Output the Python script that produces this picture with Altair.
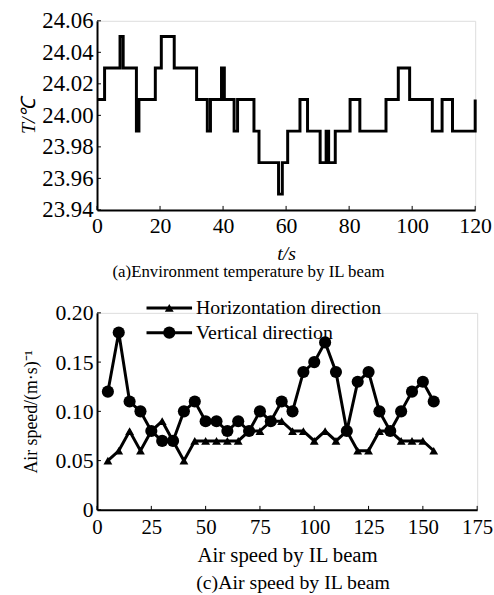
import altair as alt
import pandas as pd

# ---------------- data: (a) environment temperature ----------------
t_steps = [0, 2.4, 7.3, 8.3, 12.5, 13.3, 18.5, 20.4, 24.5, 31.6,
           35.0, 36.0, 39.5, 40.4, 43.5, 44.6, 49.8, 51.4, 57.6, 58.8,
           60.5, 64.4, 66.8, 70.8, 72.7, 73.5, 75.6, 80.3, 83.4, 91.7,
           95.6, 99.2, 106.4, 109.5, 112.8, 120]
temp = [24.01, 24.03, 24.05, 24.03, 23.99, 24.01, 24.03, 24.05, 24.03, 24.01,
        23.99, 24.01, 24.03, 24.01, 23.99, 24.01, 23.99, 23.97, 23.95, 23.97,
        23.99, 24.01, 23.99, 23.97, 23.99, 23.97, 23.99, 24.01, 23.99, 24.01,
        24.03, 24.01, 23.99, 24.01, 23.99, 24.01]
t_ticks = [0, 20, 40, 60, 80, 100, 120]
temp_ticks = [23.94, 23.96, 23.98, 24.00, 24.02, 24.04, 24.06]

# ---------------- data: (c) air speed ----------------
pos = [5, 10, 15, 20, 25, 30, 35, 40, 45, 50, 55, 60, 65, 70, 75, 80,
       85, 90, 95, 100, 105, 110, 115, 120, 125, 130, 135, 140, 145, 150, 155]
horizontal = [0.05, 0.06, 0.08, 0.06, 0.08, 0.09, 0.07, 0.05, 0.07, 0.07, 0.07,
              0.07, 0.07, 0.08, 0.08, 0.09, 0.09, 0.08, 0.08, 0.07, 0.08, 0.07,
              0.08, 0.06, 0.06, 0.08, 0.08, 0.07, 0.07, 0.07, 0.06]
vertical = [0.12, 0.18, 0.11, 0.10, 0.08, 0.07, 0.07, 0.10, 0.11, 0.09, 0.09,
            0.08, 0.09, 0.08, 0.10, 0.09, 0.11, 0.10, 0.14, 0.15, 0.17, 0.14,
            0.08, 0.13, 0.14, 0.10, 0.08, 0.10, 0.12, 0.13, 0.11]
series_names = ["Horizontation direction", "Vertical direction"]
series_shapes = ["triangle-up", "circle"]
pos_ticks = [0, 25, 50, 75, 100, 125, 150, 175]
speed_ticks = [0, 0.05, 0.10, 0.15, 0.20]

FONT = "Liberation Serif"
SW = 3

# ---------------- top chart ----------------
W1, H1 = 382, 191
temp_df = pd.DataFrame({"t": t_steps, "T": temp})
xs1 = alt.Scale(domain=[0, 120], nice=False)
ys1 = alt.Scale(domain=[23.94, 24.06], nice=False, zero=False)

xaxis1 = alt.Axis(values=t_ticks, title="t/s", titleFontStyle="italic",
                  titleFont=FONT, titleFontSize=20, titleFontWeight="normal",
                  titlePadding=7, labelFont=FONT, labelFontSize=22,
                  labelPadding=6, ticks=False, domainColor="black",
                  domainWidth=2, labelColor="black", titleColor="black",
                  grid=False, labelFlush=False, labelOverlap=False)
yaxis1 = alt.Axis(values=temp_ticks, format=".2f", title="T/℃",
                  titleFont=FONT, titleFontSize=20, titleFontStyle="italic",
                  titleFontWeight="normal", titlePadding=3,
                  labelFont=FONT, labelFontSize=23, labelPadding=4,
                  ticks=False, domainColor="black", domainWidth=2,
                  labelColor="black", titleColor="black", grid=False,
                  labelOverlap=False)

line1 = alt.Chart(temp_df).mark_line(
    interpolate="step-after", color="black", strokeWidth=SW, clip=False
).encode(
    x=alt.X("t:Q", scale=xs1, axis=xaxis1),
    y=alt.Y("T:Q", scale=ys1, axis=yaxis1),
)

xt1 = alt.Chart(pd.DataFrame({"v": t_ticks})).mark_rule(color="black", strokeWidth=1).encode(
    x=alt.X("v:Q", scale=xs1, axis=xaxis1), y=alt.value(H1), y2=alt.value(H1 - 4))
yt1 = alt.Chart(pd.DataFrame({"v": temp_ticks})).mark_rule(color="black", strokeWidth=1).encode(
    y=alt.Y("v:Q", scale=ys1, axis=yaxis1), x=alt.value(0), x2=alt.value(4))

top = alt.layer(line1, xt1, yt1).properties(
    width=W1, height=H1,
    title=alt.TitleParams("(a)Environment temperature by IL beam", orient="bottom",
                          font=FONT, fontSize=17, fontWeight="normal", offset=1,
                          anchor="middle", color="black", dx=-38),
)

# ---------------- bottom chart ----------------
W2, H2 = 384, 199
rows = []
for name, shape, vals in zip(series_names, series_shapes, [horizontal, vertical]):
    for p, v in zip(pos, vals):
        rows.append({"pos": p, "speed": v, "series": name, "shape": shape})
air_df = pd.DataFrame(rows)
xs2 = alt.Scale(domain=[0, 175], nice=False)
ys2 = alt.Scale(domain=[0, 0.2], nice=False)

xaxis2 = alt.Axis(values=pos_ticks, title="Air speed by IL beam", titleFont=FONT,
                  titleFontSize=21, titleFontWeight="normal", titlePadding=7,
                  labelFont=FONT, labelFontSize=21, labelPadding=7, ticks=False,
                  domainColor="black", domainWidth=2, labelColor="black",
                  titleColor="black", grid=False, labelFlush=False, labelOverlap=False)
yaxis2 = alt.Axis(values=speed_ticks,
                  labelExpr="datum.value == 0 ? '0' : format(datum.value, '.2f')",
                  title="Air speed/(m·s)⁻¹", titleFont=FONT, titleFontSize=18,
                  titleFontWeight="normal", titlePadding=15, labelFont=FONT,
                  labelFontSize=22, labelPadding=4, ticks=False, domainColor="black",
                  domainWidth=2, labelColor="black", titleColor="black", grid=False,
                  labelOverlap=False)

base2 = alt.Chart(air_df).encode(
    x=alt.X("pos:Q", scale=xs2, axis=xaxis2),
    y=alt.Y("speed:Q", scale=ys2, axis=yaxis2),
    detail="series:N",
)
lines2 = base2.mark_line(color="black", strokeWidth=SW)
pts_h = base2.transform_filter(alt.datum.series == series_names[0]).mark_point(
    shape="triangle-up", filled=True, color="black", size=80, opacity=1)
pts_v = base2.transform_filter(alt.datum.series == series_names[1]).mark_point(
    shape="circle", filled=True, color="black", size=150, opacity=1)

xt2 = alt.Chart(pd.DataFrame({"v": pos_ticks})).mark_rule(color="black", strokeWidth=1).encode(
    x=alt.X("v:Q", scale=xs2, axis=xaxis2), y=alt.value(H2), y2=alt.value(H2 - 4))
yt2 = alt.Chart(pd.DataFrame({"v": speed_ticks})).mark_rule(color="black", strokeWidth=1).encode(
    y=alt.Y("v:Q", scale=ys2, axis=yaxis2), x=alt.value(0), x2=alt.value(4))

# legend (manual, inside top-left of the plot)
leg_df = pd.DataFrame({"series": series_names})
legend_layers = []
for i, (name, shape, sz) in enumerate(zip(series_names, series_shapes, [80, 150])):
    ly = -5 + i * 25
    d = leg_df[leg_df["series"] == name]
    legend_layers.append(alt.Chart(d).mark_rule(color="black", strokeWidth=SW).encode(
        x=alt.value(50), x2=alt.value(96), y=alt.value(ly)))
    legend_layers.append(alt.Chart(d).mark_point(
        shape=shape, filled=True, color="black", size=sz, opacity=1).encode(
        x=alt.value(73), y=alt.value(ly)))
    legend_layers.append(alt.Chart(d).mark_text(
        align="left", baseline="middle", font=FONT, fontSize=20, color="black").encode(
        x=alt.value(100), y=alt.value(ly), text="series:N"))

bottom = alt.layer(lines2, pts_h, pts_v, xt2, yt2, *legend_layers).properties(
    width=W2, height=H2,
    title=alt.TitleParams("(c)Air speed by IL beam", orient="bottom", font=FONT,
                          fontSize=20, fontWeight="normal", offset=8,
                          anchor="middle", color="black", dx=6),
)

chart = alt.vconcat(top, bottom, spacing=104, bounds="flush").properties(
    padding={"left": 18, "top": 6, "right": 0, "bottom": 0},
).configure_view(stroke=None).configure(background="white")

chart.save("out.html", embed_options={"renderer": "svg", "actions": False})
